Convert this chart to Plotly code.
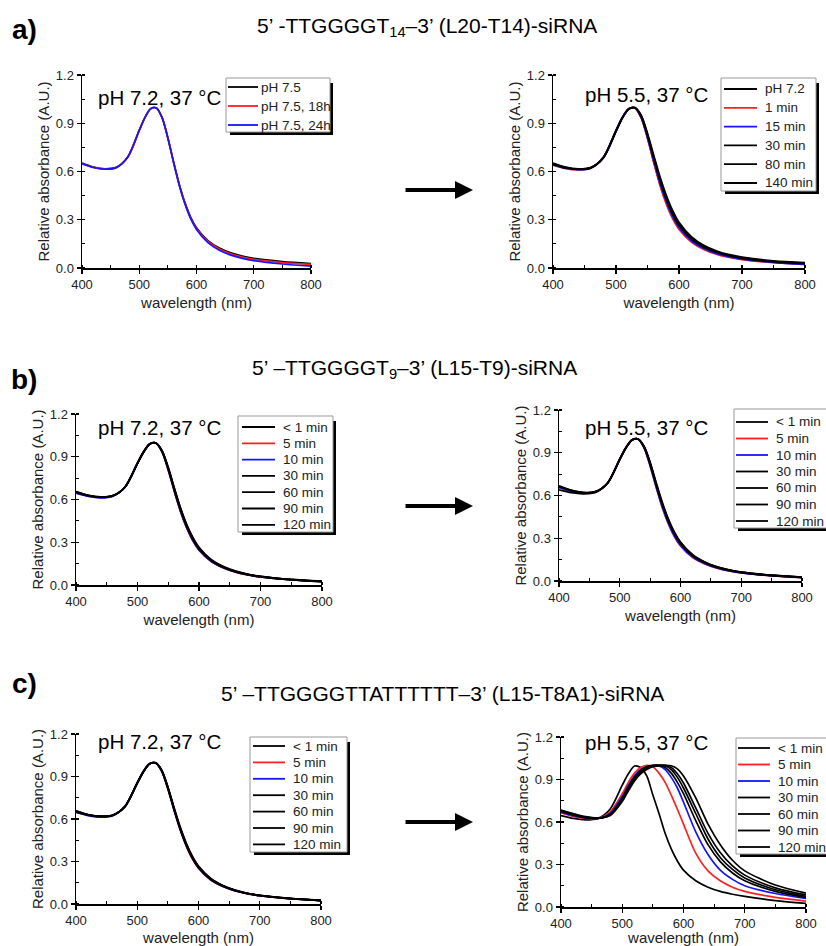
import plotly.graph_objects as go

# ---------------- data ----------------
W = [400, 420, 440, 460, 480, 500, 510, 520, 530, 540, 550, 560, 570, 580, 590, 600, 620, 640, 660, 680, 700, 750, 800]

# a) left : pH 7.2, 37 C
A_LEFT_NAMES = ["pH 7.5", "pH 7.5, 18h", "pH 7.5, 24h"]
A1_ph75 = [0.652, 0.627, 0.617, 0.626, 0.69, 0.855, 0.935, 0.99, 0.995, 0.935, 0.81, 0.66, 0.52, 0.405, 0.315, 0.25, 0.17, 0.124, 0.094, 0.074, 0.06, 0.04, 0.028]
A1_18h = [0.650, 0.626, 0.616, 0.625, 0.69, 0.856, 0.936, 0.99, 0.995, 0.934, 0.808, 0.657, 0.516, 0.40, 0.31, 0.245, 0.165, 0.118, 0.088, 0.068, 0.054, 0.034, 0.022]
A1_24h = [0.648, 0.625, 0.615, 0.624, 0.69, 0.857, 0.937, 0.991, 0.995, 0.933, 0.806, 0.654, 0.512, 0.396, 0.305, 0.24, 0.158, 0.11, 0.08, 0.06, 0.046, 0.025, 0.012]

# a) right : pH 5.5, 37 C
A_RIGHT_NAMES = ["pH 7.2", "1 min", "15 min", "30 min", "80 min", "140 min"]
A2_72 = [0.648, 0.625, 0.615, 0.624, 0.69, 0.856, 0.936, 0.99, 0.995, 0.935, 0.81, 0.66, 0.52, 0.405, 0.315, 0.25, 0.168, 0.12, 0.09, 0.07, 0.056, 0.036, 0.024]
A2_1 = [0.64, 0.618, 0.61, 0.62, 0.688, 0.855, 0.936, 0.99, 0.994, 0.932, 0.805, 0.652, 0.51, 0.395, 0.305, 0.24, 0.16, 0.114, 0.085, 0.066, 0.052, 0.033, 0.022]
A2_15 = [0.642, 0.62, 0.611, 0.621, 0.688, 0.855, 0.936, 0.99, 0.995, 0.936, 0.812, 0.664, 0.524, 0.41, 0.318, 0.252, 0.168, 0.12, 0.089, 0.069, 0.055, 0.035, 0.022]
A2_30 = [0.645, 0.622, 0.613, 0.622, 0.686, 0.852, 0.933, 0.988, 0.996, 0.942, 0.822, 0.678, 0.54, 0.425, 0.332, 0.264, 0.178, 0.128, 0.096, 0.075, 0.06, 0.038, 0.027]
A2_80 = [0.648, 0.624, 0.614, 0.623, 0.685, 0.85, 0.931, 0.987, 0.997, 0.946, 0.83, 0.69, 0.553, 0.438, 0.344, 0.274, 0.186, 0.134, 0.101, 0.079, 0.064, 0.041, 0.03]
A2_140 = [0.652, 0.627, 0.617, 0.625, 0.684, 0.848, 0.93, 0.986, 0.998, 0.95, 0.838, 0.70, 0.565, 0.45, 0.356, 0.284, 0.194, 0.14, 0.106, 0.083, 0.068, 0.044, 0.033]

TIME_NAMES = ["< 1 min", "5 min", "10 min", "30 min", "60 min", "90 min", "120 min"]

# b) left
B1_lt1 = [0.648, 0.625, 0.615, 0.625, 0.69, 0.857, 0.937, 0.991, 0.995, 0.933, 0.806, 0.655, 0.515, 0.40, 0.31, 0.245, 0.165, 0.12, 0.09, 0.07, 0.056, 0.036, 0.024]
B1_5 = [0.646, 0.623, 0.613, 0.624, 0.69, 0.857, 0.937, 0.991, 0.995, 0.934, 0.808, 0.658, 0.518, 0.403, 0.313, 0.247, 0.166, 0.12, 0.09, 0.07, 0.056, 0.035, 0.023]
B1_10 = [0.644, 0.621, 0.611, 0.623, 0.69, 0.856, 0.936, 0.99, 0.995, 0.935, 0.81, 0.66, 0.52, 0.405, 0.315, 0.249, 0.167, 0.121, 0.091, 0.071, 0.057, 0.036, 0.024]
B1_30 = [0.65, 0.626, 0.616, 0.626, 0.689, 0.855, 0.935, 0.99, 0.996, 0.937, 0.814, 0.665, 0.526, 0.41, 0.32, 0.253, 0.17, 0.123, 0.092, 0.072, 0.058, 0.037, 0.025]
B1_60 = [0.652, 0.627, 0.617, 0.626, 0.688, 0.854, 0.934, 0.989, 0.996, 0.939, 0.818, 0.67, 0.532, 0.416, 0.325, 0.257, 0.173, 0.125, 0.094, 0.073, 0.059, 0.038, 0.026]
B1_90 = [0.654, 0.629, 0.618, 0.627, 0.688, 0.853, 0.933, 0.989, 0.997, 0.941, 0.822, 0.675, 0.537, 0.421, 0.33, 0.261, 0.176, 0.127, 0.095, 0.074, 0.06, 0.038, 0.026]
B1_120 = [0.656, 0.63, 0.619, 0.628, 0.687, 0.852, 0.932, 0.988, 0.997, 0.943, 0.826, 0.68, 0.542, 0.426, 0.334, 0.265, 0.178, 0.129, 0.097, 0.075, 0.061, 0.039, 0.027]

# b) right
B2_lt1 = [0.66, 0.632, 0.618, 0.625, 0.688, 0.855, 0.935, 0.99, 0.996, 0.938, 0.815, 0.666, 0.527, 0.412, 0.322, 0.256, 0.172, 0.125, 0.094, 0.073, 0.059, 0.038, 0.025]
B2_5 = [0.655, 0.628, 0.615, 0.623, 0.689, 0.857, 0.937, 0.991, 0.995, 0.934, 0.806, 0.655, 0.514, 0.40, 0.31, 0.246, 0.165, 0.12, 0.09, 0.07, 0.056, 0.036, 0.024]
B2_10 = [0.657, 0.63, 0.616, 0.624, 0.688, 0.856, 0.936, 0.99, 0.995, 0.936, 0.81, 0.66, 0.52, 0.405, 0.315, 0.25, 0.168, 0.122, 0.092, 0.071, 0.057, 0.037, 0.024]
B2_30 = [0.662, 0.634, 0.619, 0.626, 0.687, 0.854, 0.934, 0.989, 0.996, 0.94, 0.82, 0.672, 0.533, 0.418, 0.327, 0.26, 0.175, 0.127, 0.095, 0.074, 0.06, 0.038, 0.025]
B2_60 = [0.665, 0.636, 0.62, 0.627, 0.686, 0.853, 0.933, 0.988, 0.997, 0.942, 0.825, 0.678, 0.54, 0.424, 0.333, 0.265, 0.179, 0.13, 0.097, 0.076, 0.061, 0.039, 0.026]
B2_90 = [0.668, 0.638, 0.622, 0.628, 0.686, 0.852, 0.932, 0.988, 0.997, 0.944, 0.83, 0.684, 0.546, 0.43, 0.338, 0.27, 0.182, 0.132, 0.099, 0.077, 0.062, 0.04, 0.027]
B2_120 = [0.64, 0.62, 0.612, 0.622, 0.686, 0.852, 0.932, 0.988, 0.997, 0.946, 0.834, 0.69, 0.552, 0.436, 0.343, 0.274, 0.185, 0.134, 0.1, 0.078, 0.063, 0.041, 0.028]

# c) left
C1_lt1 = [0.652, 0.628, 0.617, 0.626, 0.688, 0.853, 0.933, 0.989, 0.996, 0.94, 0.818, 0.67, 0.532, 0.416, 0.325, 0.258, 0.173, 0.126, 0.095, 0.074, 0.06, 0.038, 0.024]
C1_5 = [0.648, 0.625, 0.615, 0.625, 0.69, 0.856, 0.936, 0.99, 0.995, 0.936, 0.812, 0.663, 0.524, 0.409, 0.318, 0.252, 0.169, 0.123, 0.092, 0.072, 0.058, 0.037, 0.023]
C1_10 = [0.646, 0.624, 0.614, 0.624, 0.69, 0.857, 0.937, 0.991, 0.995, 0.937, 0.815, 0.667, 0.528, 0.413, 0.322, 0.255, 0.171, 0.124, 0.093, 0.073, 0.059, 0.037, 0.024]
C1_30 = [0.65, 0.627, 0.616, 0.625, 0.689, 0.855, 0.935, 0.99, 0.996, 0.938, 0.816, 0.668, 0.53, 0.414, 0.323, 0.256, 0.172, 0.125, 0.094, 0.073, 0.059, 0.038, 0.024]
C1_60 = [0.654, 0.629, 0.618, 0.627, 0.688, 0.853, 0.933, 0.989, 0.996, 0.941, 0.82, 0.673, 0.535, 0.419, 0.328, 0.26, 0.175, 0.127, 0.095, 0.074, 0.06, 0.038, 0.025]
C1_90 = [0.656, 0.63, 0.619, 0.627, 0.687, 0.852, 0.932, 0.988, 0.997, 0.943, 0.824, 0.678, 0.54, 0.424, 0.332, 0.264, 0.178, 0.129, 0.097, 0.075, 0.061, 0.039, 0.025]
C1_120 = [0.658, 0.632, 0.62, 0.628, 0.687, 0.851, 0.931, 0.988, 0.997, 0.945, 0.828, 0.683, 0.546, 0.43, 0.337, 0.268, 0.181, 0.131, 0.098, 0.076, 0.062, 0.04, 0.026]

# c) right (aggregation at pH 5.5)
C2_lt1 = [0.645, 0.625, 0.615, 0.625, 0.69, 0.86, 0.94, 0.995, 0.985, 0.925, 0.79, 0.66, 0.52, 0.41, 0.325, 0.26, 0.185, 0.14, 0.11, 0.09, 0.075, 0.045, 0.025]
C2_5 = [0.665, 0.64, 0.625, 0.625, 0.67, 0.80, 0.88, 0.945, 0.985, 1.0, 0.99, 0.945, 0.88, 0.79, 0.69, 0.585, 0.38, 0.255, 0.185, 0.14, 0.11, 0.068, 0.042]
C2_10 = [0.67, 0.645, 0.628, 0.625, 0.66, 0.78, 0.86, 0.925, 0.97, 0.99, 1.0, 0.995, 0.97, 0.915, 0.84, 0.74, 0.53, 0.37, 0.26, 0.195, 0.15, 0.095, 0.06]
C2_30 = [0.675, 0.65, 0.63, 0.625, 0.655, 0.77, 0.85, 0.92, 0.965, 0.99, 1.0, 1.0, 0.985, 0.945, 0.88, 0.80, 0.61, 0.44, 0.32, 0.24, 0.185, 0.11, 0.066]
C2_60 = [0.678, 0.652, 0.632, 0.625, 0.65, 0.76, 0.84, 0.91, 0.955, 0.985, 0.998, 1.0, 0.995, 0.97, 0.915, 0.84, 0.66, 0.48, 0.35, 0.265, 0.205, 0.122, 0.075]
C2_90 = [0.68, 0.655, 0.635, 0.627, 0.648, 0.755, 0.835, 0.905, 0.95, 0.98, 0.995, 1.0, 1.0, 0.985, 0.94, 0.875, 0.70, 0.52, 0.385, 0.29, 0.225, 0.135, 0.085]
C2_120 = [0.685, 0.66, 0.638, 0.628, 0.645, 0.745, 0.82, 0.89, 0.94, 0.97, 0.99, 0.998, 1.0, 0.997, 0.975, 0.925, 0.77, 0.585, 0.44, 0.33, 0.255, 0.155, 0.098]

X_TICKS = [400, 500, 600, 700, 800]
Y_TICKS = [0.0, 0.3, 0.6, 0.9, 1.2]

TITLES = ["5’ -TTGGGGT<sub>14</sub>–3’ (L20-T14)-siRNA",
          "5’ –TTGGGGT<sub>9</sub>–3’ (L15-T9)-siRNA",
          "5’ –TTGGGGTTATTTTTT–3’ (L15-T8A1)-siRNA"]
LETTERS = ["a)", "b)", "c)"]
COND_LEFT = "pH 7.2, 37 °C"
COND_RIGHT = "pH 5.5, 37 °C"

# ---------------- style / layout ----------------
FW, FH = 826, 946
FONT = "Arial, Liberation Sans, sans-serif"
K, R, B = "#000000", "#ff2020", "#1515ff"
COL3 = [K, R, B]
COL6 = [K, R, B, K, K, K]
COL7 = [K, R, B, K, K, K, K]


def px(x):
    return x / FW


def py(y):
    return 1 - y / FH


# panel pixel boxes: (x0, x1, ytop, ybottom)
PANELS = [
    dict(box=(82, 311, 75, 268), names=A_LEFT_NAMES, series=[A1_ph75, A1_18h, A1_24h], cols=COL3,
         cond=COND_LEFT, cond_xy=(96, 98), xstand=6,
         leg=dict(box=(226, 330, 78, 132), y0=87, dy=19, sx=(228, 258), tx=259)),
    dict(box=(553, 805, 75, 268), names=A_RIGHT_NAMES, series=[A2_72, A2_1, A2_15, A2_30, A2_80, A2_140], cols=COL6,
         cond=COND_RIGHT, cond_xy=(583, 94), xstand=6,
         leg=dict(box=(721, 816, 78, 191), y0=89, dy=18.8, sx=(724, 757), tx=763)),
    dict(box=(76, 322, 414, 585), names=TIME_NAMES, series=[B1_lt1, B1_5, B1_10, B1_30, B1_60, B1_90, B1_120], cols=COL7,
         cond=COND_LEFT, cond_xy=(96, 427), xstand=6,
         leg=dict(box=(238, 333, 416, 532), y0=427, dy=16.3, sx=(242, 275), tx=281)),
    dict(box=(559, 802, 410, 581), names=TIME_NAMES, series=[B2_lt1, B2_5, B2_10, B2_30, B2_60, B2_90, B2_120], cols=COL7,
         cond=COND_RIGHT, cond_xy=(583, 427), xstand=6,
         leg=dict(box=(734, 832, 409, 528), y0=422, dy=16.5, sx=(736, 768), tx=774)),
    dict(box=(76, 321, 734, 904), names=TIME_NAMES, series=[C1_lt1, C1_5, C1_10, C1_30, C1_60, C1_90, C1_120], cols=COL7,
         cond=COND_LEFT, cond_xy=(96, 741), xstand=6,
         leg=dict(box=(250, 347, 737, 852), y0=746, dy=16.4, sx=(253, 285), tx=291)),
    dict(box=(561, 806, 737, 907), names=TIME_NAMES, series=[C2_lt1, C2_5, C2_10, C2_30, C2_60, C2_90, C2_120], cols=COL7,
         cond=COND_RIGHT, cond_xy=(583, 742), xstand=8,
         leg=dict(box=(736, 832, 738, 854), y0=748, dy=16.5, sx=(738, 770), tx=776)),
]

fig = go.Figure()
layout = dict(width=FW, height=FH, margin=dict(l=0, r=0, t=0, b=0, autoexpand=False),
              paper_bgcolor="white", plot_bgcolor="white", showlegend=False,
              font=dict(family=FONT, color="#222"))
shapes, annos = [], []

for i, p in enumerate(PANELS):
    n = i + 1
    xa = "x" if n == 1 else f"x{n}"
    ya = "y" if n == 1 else f"y{n}"
    x0, x1, yt, yb = p["box"]
    for name, vals, col in zip(p["names"], p["series"], p["cols"]):
        fig.add_trace(go.Scatter(x=W, y=vals, mode="lines", name=name, xaxis=xa, yaxis=ya,
                                 line=dict(color=col, width=1.7, shape="spline", smoothing=0.8),
                                 hoverinfo="skip", showlegend=False))
    axcommon = dict(showline=True, linecolor="black", linewidth=1.5, showgrid=False, zeroline=False,
                    ticks="outside", ticklen=4, tickwidth=1.2, tickcolor="black",
                    tickfont=dict(size=13, color="#222", family=FONT))
    layout["xaxis" if n == 1 else f"xaxis{n}"] = dict(
        axcommon, domain=[px(x0), px(x1)], range=[400, 800], tickvals=X_TICKS,
        anchor=ya, minor=dict(dtick=50, tick0=400, ticks="inside", ticklen=3, tickcolor="black", showgrid=False),
        title=dict(text="wavelength (nm)", font=dict(size=15, color="#222"), standoff=p["xstand"]))
    layout["yaxis" if n == 1 else f"yaxis{n}"] = dict(
        axcommon, domain=[py(yb), py(yt)], range=[0, 1.2], tickvals=Y_TICKS, tickformat=".1f",
        anchor=xa, minor=dict(dtick=0.15, tick0=0, ticks="inside", ticklen=3, tickcolor="black", showgrid=False),
        title=dict(text="Relative absorbance (A.U.)", font=dict(size=15, color="#222"), standoff=2))
    # condition label
    cx, cy = p["cond_xy"]
    annos.append(dict(text=p["cond"], x=px(cx), y=py(cy), xref="paper", yref="paper",
                      xanchor="left", yanchor="middle", showarrow=False,
                      font=dict(size=20.5, color="black", family=FONT)))
    # custom Origin-style legend
    lg = p["leg"]
    lx0, lx1, ly0, ly1 = lg["box"]
    shapes.append(dict(type="rect", xref="paper", yref="paper", layer="above",
                       x0=px(lx0 + 4), x1=px(lx1 + 3), y0=py(ly1 + 3), y1=py(ly0 + 5),
                       fillcolor="black", line=dict(width=0)))
    shapes.append(dict(type="rect", xref="paper", yref="paper", layer="above",
                       x0=px(lx0), x1=px(lx1), y0=py(ly1), y1=py(ly0),
                       fillcolor="white", line=dict(color="#999", width=1)))
    for j, (name, col) in enumerate(zip(p["names"], p["cols"])):
        ry = lg["y0"] + j * lg["dy"]
        shapes.append(dict(type="line", xref="paper", yref="paper", layer="above",
                           x0=px(lg["sx"][0]), x1=px(lg["sx"][1]), y0=py(ry), y1=py(ry),
                           line=dict(color=col, width=1.8)))
        annos.append(dict(text=name, x=px(lg["tx"]), y=py(ry), xref="paper", yref="paper",
                          xanchor="left", yanchor="middle", showarrow=False,
                          font=dict(size=13.5, color="#222", family=FONT)))

# section titles, letters and arrows
TITLE_POS = [(427, 27), (414, 369), (442, 693)]
LETTER_POS = [(24, 29), (24, 379), (24, 683)]
ARROW_Y = [190, 506, 822]
for t, (tx, ty), l, (lx, ly), ay in zip(TITLES, TITLE_POS, LETTERS, LETTER_POS, ARROW_Y):
    annos.append(dict(text=t, x=px(tx), y=py(ty), xref="paper", yref="paper", xanchor="center",
                      yanchor="middle", showarrow=False, font=dict(size=21, color="black", family=FONT)))
    annos.append(dict(text=f"<b>{l}</b>", x=px(lx), y=py(ly), xref="paper", yref="paper", xanchor="center",
                      yanchor="middle", showarrow=False, font=dict(size=28, color="black", family=FONT)))
    annos.append(dict(text="", x=px(473), y=py(ay), ax=-69, ay=0, xref="paper", yref="paper",
                      axref="pixel", ayref="pixel", showarrow=True, arrowhead=2, arrowsize=0.9,
                      arrowwidth=4, arrowcolor="black"))

layout["shapes"] = shapes
layout["annotations"] = annos
fig.update_layout(**layout)
fig.write_html("out.html", config={"displayModeBar": False, "staticPlot": True},
               post_script="document.body.style.margin='0px';document.body.style.padding='0px';"
                           "document.body.style.overflow='hidden';")
